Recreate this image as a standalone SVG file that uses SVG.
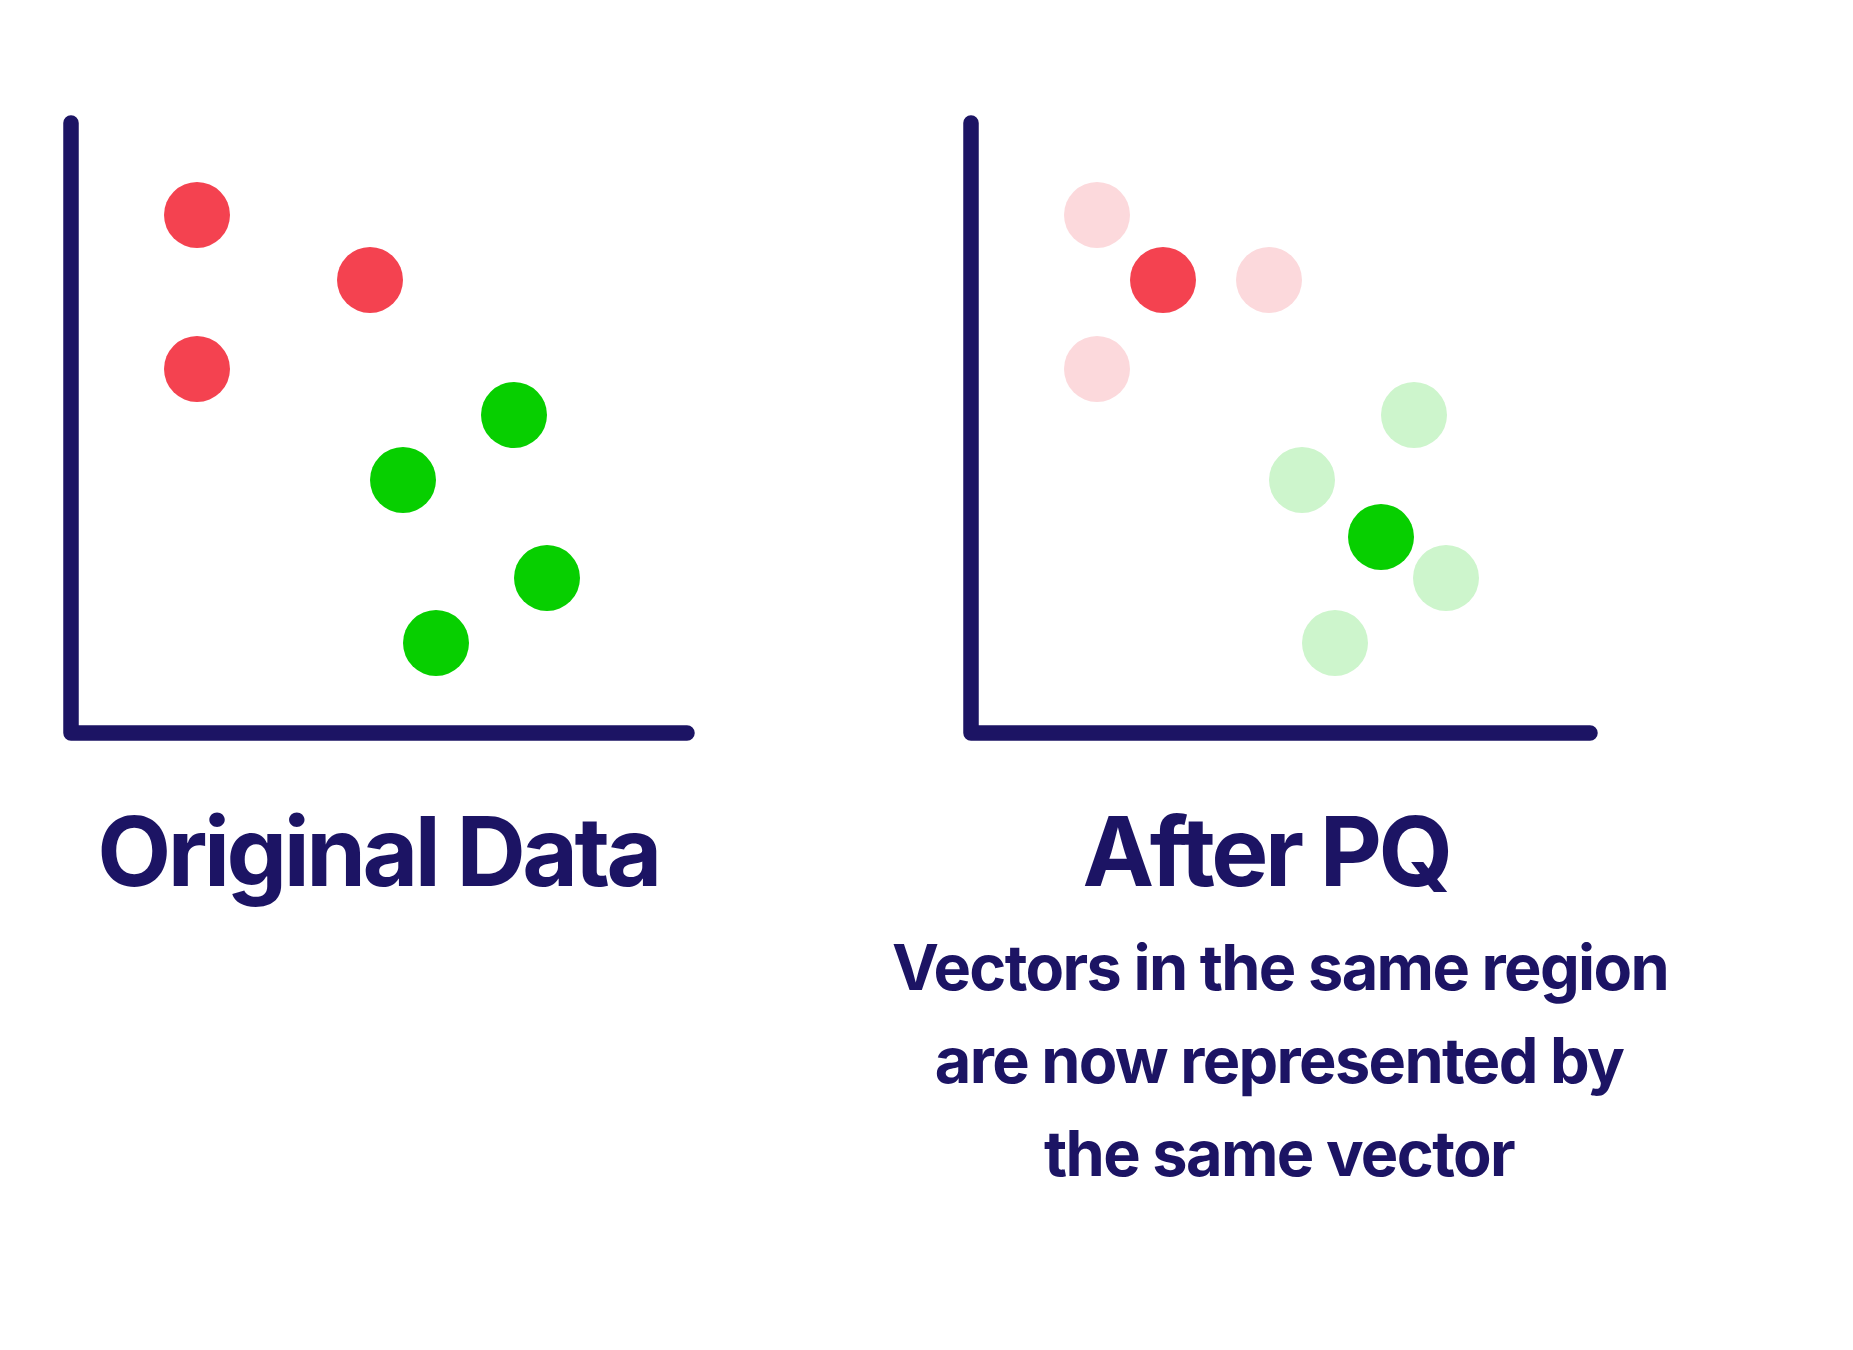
<svg xmlns="http://www.w3.org/2000/svg" width="1853" height="1350" viewBox="0 0 1853 1350">
<style>
.axis{fill:none;stroke:#1C1464;stroke-width:15.5;stroke-linecap:round;stroke-linejoin:round}
.red{fill:#F44250}
.green{fill:#07CF00}
.pred{fill:#FCD9DC}
.pgreen{fill:#CDF5CC}
.title{font-family:Inter,"Liberation Sans",sans-serif;font-weight:700;font-size:96px;letter-spacing:-3.5px;fill:#1C1464;text-anchor:middle}
.desc{font-family:Inter,"Liberation Sans",sans-serif;font-weight:700;font-size:63px;letter-spacing:-1.65px;fill:#1C1464;text-anchor:middle}
</style>
<rect width="1853" height="1350" fill="#ffffff"/>
<g id="plot-original">
<path class="axis" d="M71,123 V733 H687"/>
<circle class="red" cx="197" cy="215" r="33"/>
<circle class="red" cx="370" cy="280" r="33"/>
<circle class="red" cx="197" cy="369" r="33"/>
<circle class="green" cx="514" cy="415" r="33"/>
<circle class="green" cx="403" cy="480" r="33"/>
<circle class="green" cx="547" cy="578" r="33"/>
<circle class="green" cx="436" cy="643" r="33"/>
</g>
<g id="plot-after-pq">
<path class="axis" d="M971,123 V733 H1590"/>
<circle class="pred" cx="1097" cy="215" r="33"/>
<circle class="pred" cx="1269" cy="280" r="33"/>
<circle class="pred" cx="1097" cy="369" r="33"/>
<circle class="red" cx="1163" cy="280" r="33"/>
<circle class="pgreen" cx="1414" cy="415" r="33"/>
<circle class="pgreen" cx="1302" cy="480" r="33"/>
<circle class="pgreen" cx="1446" cy="578" r="33"/>
<circle class="pgreen" cx="1335" cy="643" r="33"/>
<circle class="green" cx="1381" cy="537" r="33"/>
</g>
<g id="labels">
<text class="title" x="378" y="886">Original Data</text>
<text class="title" x="1266" y="886">After PQ</text>
<text class="desc" x="1280" y="990">Vectors in the same region</text>
<text class="desc" x="1279" y="1083">are now represented by</text>
<text class="desc" x="1279" y="1176">the same vector</text>
</g>
<g id="connectors"></g>
</svg>
